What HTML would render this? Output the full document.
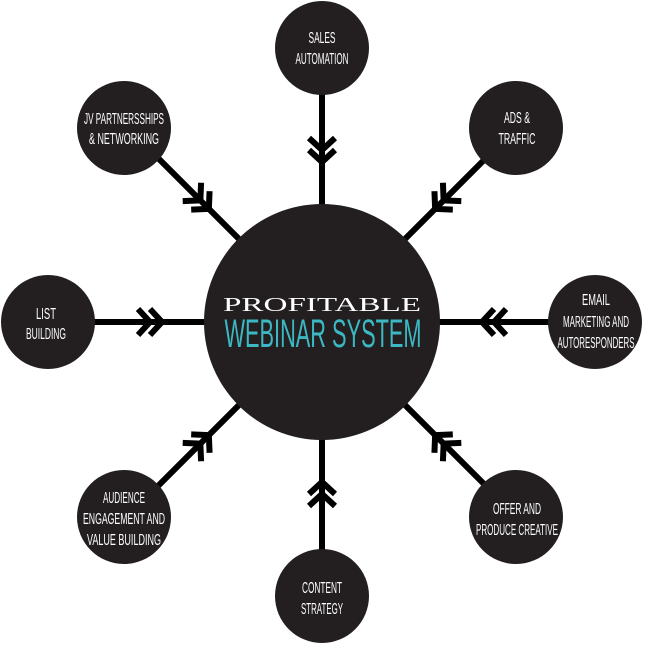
<!DOCTYPE html>
<html><head><meta charset="utf-8"><style>
html,body{margin:0;padding:0;background:#fff;}
svg{display:block;}
.t{font-family:"Liberation Sans Narrow","Liberation Sans",sans-serif;font-size:16px;fill:#fff;text-anchor:middle;}
</style></head><body>
<svg width="645" height="645" viewBox="0 0 645 645" xmlns="http://www.w3.org/2000/svg">
<defs>
<g id="spoke">
  <line x1="0" y1="0" x2="274" y2="0" stroke="#000" stroke-width="6"/>
  <polyline points="172,-13 160,0 172,13" fill="none" stroke="#000" stroke-width="6" stroke-miterlimit="10"/>
  <polyline points="184,-13 172,0 184,13" fill="none" stroke="#000" stroke-width="6" stroke-miterlimit="10"/>
</g>
</defs>
<g transform="translate(322,322)">
  <use href="#spoke" transform="rotate(-90)"/>
  <use href="#spoke" transform="rotate(-45)"/>
  <use href="#spoke" transform="rotate(0)"/>
  <use href="#spoke" transform="rotate(45)"/>
  <use href="#spoke" transform="rotate(90)"/>
  <use href="#spoke" transform="rotate(135)"/>
  <use href="#spoke" transform="rotate(180)"/>
  <use href="#spoke" transform="rotate(225)"/>
</g>
<circle cx="322" cy="322" r="118" fill="#231f20"/>
<circle cx="322" cy="48" r="47" fill="#231f20"/>
<circle cx="516" cy="128" r="47" fill="#231f20"/>
<circle cx="595" cy="322" r="47" fill="#231f20"/>
<circle cx="516" cy="517" r="47" fill="#231f20"/>
<circle cx="322" cy="596" r="47" fill="#231f20"/>
<circle cx="124" cy="517" r="47" fill="#231f20"/>
<circle cx="48" cy="322" r="47" fill="#231f20"/>
<circle cx="124" cy="128" r="47" fill="#231f20"/>

<text x="322" y="311" font-family="Liberation Serif,serif" font-size="20" fill="#fff" text-anchor="middle" textLength="198" lengthAdjust="spacingAndGlyphs">PROFITABLE</text>
<text x="323" y="347" font-family="Liberation Sans Narrow,Liberation Sans,sans-serif" font-size="40" fill="#3bb8c3" text-anchor="middle" textLength="197" lengthAdjust="spacingAndGlyphs">WEBINAR SYSTEM</text>

<text class="t" x="322" y="43" textLength="27" lengthAdjust="spacingAndGlyphs">SALES</text>
<text class="t" x="322" y="64" textLength="53" lengthAdjust="spacingAndGlyphs">AUTOMATION</text>

<text class="t" x="517" y="123" textLength="26" lengthAdjust="spacingAndGlyphs">ADS &amp;</text>
<text class="t" x="517" y="144" textLength="37" lengthAdjust="spacingAndGlyphs">TRAFFIC</text>

<text class="t" x="596" y="305" textLength="28" lengthAdjust="spacingAndGlyphs">EMAIL</text>
<text class="t" x="596" y="327" textLength="66" lengthAdjust="spacingAndGlyphs">MARKETING AND</text>
<text class="t" x="596" y="348" textLength="77" lengthAdjust="spacingAndGlyphs">AUTORESPONDERS</text>

<text class="t" x="517" y="514" textLength="48" lengthAdjust="spacingAndGlyphs">OFFER AND</text>
<text class="t" x="517" y="535" textLength="82" lengthAdjust="spacingAndGlyphs">PRODUCE CREATIVE</text>

<text class="t" x="322" y="593" textLength="40" lengthAdjust="spacingAndGlyphs">CONTENT</text>
<text class="t" x="322" y="614" textLength="42" lengthAdjust="spacingAndGlyphs">STRATEGY</text>

<text class="t" x="124" y="503" textLength="42" lengthAdjust="spacingAndGlyphs">AUDIENCE</text>
<text class="t" x="124" y="524" textLength="82" lengthAdjust="spacingAndGlyphs">ENGAGEMENT AND</text>
<text class="t" x="124" y="545" textLength="74" lengthAdjust="spacingAndGlyphs">VALUE BUILDING</text>

<text class="t" x="46" y="319" textLength="20" lengthAdjust="spacingAndGlyphs">LIST</text>
<text class="t" x="46" y="339" textLength="40" lengthAdjust="spacingAndGlyphs">BUILDING</text>

<text class="t" x="124" y="124" textLength="80" lengthAdjust="spacingAndGlyphs">JV PARTNERSSHIPS</text>
<text class="t" x="124" y="144" textLength="70" lengthAdjust="spacingAndGlyphs">&amp; NETWORKING</text>
</svg>
</body></html>
